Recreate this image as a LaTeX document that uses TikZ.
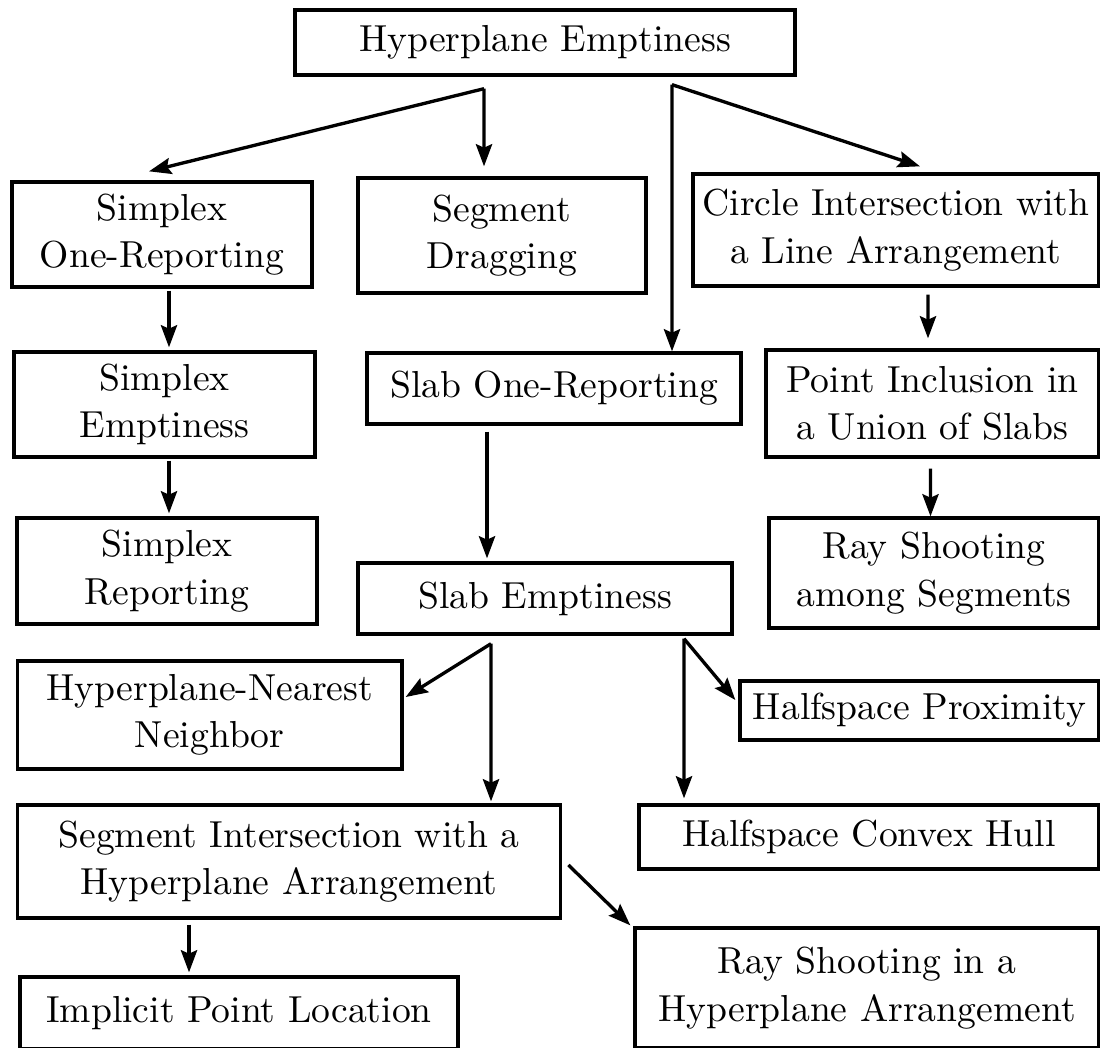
\documentclass[tikz,border=0pt]{standalone}
\usetikzlibrary{arrows.meta,positioning}
\begin{document}
\begin{tikzpicture}[>={Stealth[length=6.3pt,width=4.6pt,inset=1pt]}, line width=0.95pt,
  prob/.style={draw, rectangle, inner sep=0pt, align=center, font=\fontsize{10.7pt}{13.5pt}\selectfont}]
\useasboundingbox (0,0) rectangle (11,-10.47);
\clip (0,0) rectangle (11,-10.47);
% problems
\node[prob, minimum width=5.00cm, minimum height=0.65cm] (HE) at (5.45,-0.425) {Hyperplane Emptiness};
\node[prob, minimum width=3.00cm, minimum height=1.05cm] (SOR) at (1.62,-2.345) {Simplex\\One-Reporting};
\node[prob, minimum width=2.88cm, minimum height=1.15cm] (SD) at (5.02,-2.355) {Segment\\Dragging};
\node[prob, minimum width=4.06cm, minimum height=1.12cm] (CI) at (8.96,-2.30) {Circle Intersection with\\a Line Arrangement};
\node[prob, minimum width=3.01cm, minimum height=1.05cm] (SE) at (1.645,-4.045) {Simplex\\Emptiness};
\node[prob, minimum width=3.74cm, minimum height=0.71cm] (SlOR) at (5.54,-3.885) {Slab One-Reporting};
\node[prob, minimum width=3.33cm, minimum height=1.07cm] (PI) at (9.325,-4.035) {Point Inclusion in\\a Union of Slabs};
\node[prob, minimum width=3.00cm, minimum height=1.06cm] (SR) at (1.67,-5.71) {Simplex\\Reporting};
\node[prob, minimum width=3.74cm, minimum height=0.71cm] (SlE) at (5.45,-5.985) {Slab Emptiness};
\node[prob, minimum width=3.30cm, minimum height=1.10cm] (RSS) at (9.34,-5.73) {Ray Shooting\\among Segments};
\node[prob, minimum width=3.845cm, minimum height=1.08cm] (HNN) at (2.0975,-7.15) {Hyperplane-Nearest\\Neighbor};
\node[prob, minimum width=3.59cm, minimum height=0.59cm] (HP) at (9.195,-7.105) {Halfspace Proximity};
\node[prob, minimum width=5.435cm, minimum height=1.13cm] (SIH) at (2.89,-8.615) {Segment Intersection with a\\Hyperplane Arrangement};
\node[prob, minimum width=4.60cm, minimum height=0.64cm] (HCH) at (8.69,-8.37) {Halfspace Convex Hull};
\node[prob, minimum width=4.38cm, minimum height=0.72cm] (IPL) at (2.39,-10.13) {Implicit Point Location};
\node[prob, minimum width=4.64cm, minimum height=1.20cm] (RSH) at (8.67,-9.88) {Ray Shooting in a\\Hyperplane Arrangement};
% fork points
\coordinate (hL) at ([xshift=-0.61cm,yshift=-0.12cm]HE.south);
\coordinate (hR) at ([xshift=1.27cm,yshift=-0.08cm]HE.south);
\coordinate (sL) at ([xshift=-0.54cm,yshift=-0.08cm]SlE.south);
\coordinate (sR) at ([xshift=1.39cm,yshift=-0.03cm]SlE.south);
% reductions
\draw[->] (hL) -- ([xshift=-0.13cm,yshift=0.09cm]SOR.north);
\draw[->] (hL) -- ([xshift=-0.18cm,yshift=0.10cm]SD.north);
\draw[->] (hR) -- ([xshift=1.18cm]SlOR.north);
\draw[->] (hR) -- ([xshift=0.24cm,yshift=0.06cm]CI.north);
\draw[->] ([xshift=0.07cm,yshift=-0.02cm]SOR.south) -- ([xshift=0.045cm,yshift=0.03cm]SE.north);
\draw[->] ([xshift=0.045cm,yshift=-0.02cm]SE.south) -- ([xshift=0.02cm,yshift=0.03cm]SR.north);
\draw[->] ([xshift=-0.67cm,yshift=-0.06cm]SlOR.south) -- ([xshift=-0.58cm,yshift=0.03cm]SlE.north);
\draw[->] ([xshift=0.32cm,yshift=-0.07cm]CI.south) -- ([xshift=-0.045cm,yshift=0.10cm]PI.north);
\draw[->] ([xshift=-0.02cm,yshift=-0.10cm]PI.south) -- ([xshift=-0.035cm]RSS.north);
\draw[->] (sL) -- ([xshift=0.02cm,yshift=0.18cm]HNN.east);
\draw[->] (sL) -- ([xshift=2.02cm,yshift=0.02cm]SIH.north);
\draw[->] (sR) -- ([xshift=-0.03cm,yshift=0.105cm]HP.west);
\draw[->] (sR) -- ([xshift=-1.85cm,yshift=0.05cm]HCH.north);
\draw[->] ([xshift=-1.00cm,yshift=-0.05cm]SIH.south) -- ([xshift=-0.50cm,yshift=0.03cm]IPL.north);
\draw[->] ([xshift=0.06cm,yshift=-0.035cm]SIH.east) -- ([xshift=-0.03cm,yshift=0.01cm]RSH.north west);
\end{tikzpicture}
\end{document}
